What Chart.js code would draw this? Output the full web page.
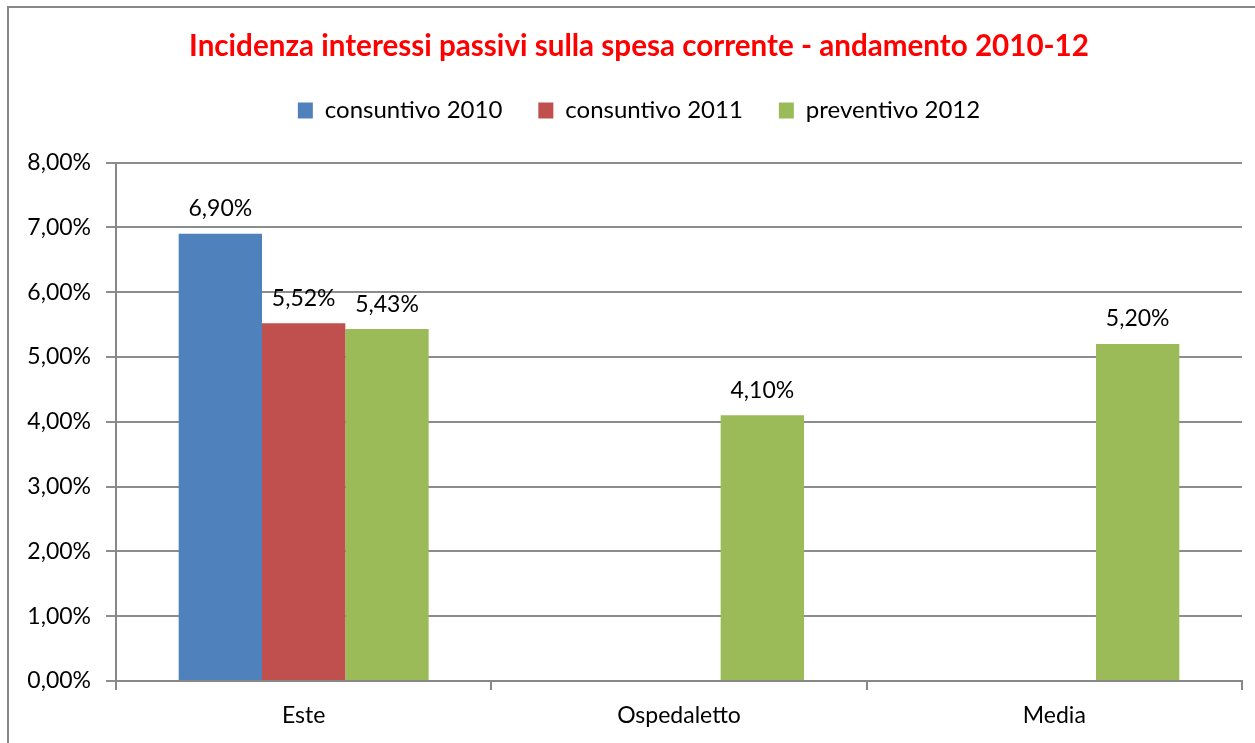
<!DOCTYPE html>
<html>
<head>
<meta charset="utf-8">
<script src="https://cdn.jsdelivr.net/npm/chart.js@4/dist/chart.umd.min.js"></script>
<style>
  html, body { margin: 0; padding: 0; background: #ffffff; overflow: hidden; }
  #wrap { position: relative; width: 1255px; height: 743px; }
</style>
</head>
<body>
<div id="wrap"><canvas id="c" width="1255" height="743"></canvas></div>
<script>
const categories = ['Este', 'Ospedaletto', 'Media'];
const consuntivo2010 = [6.90, null, null];
const consuntivo2011 = [5.52, null, null];
const preventivo2012 = [5.43, 4.10, 5.20];
const seriesNames = ['consuntivo 2010', 'consuntivo 2011', 'preventivo 2012'];
const yTicks = [0, 1, 2, 3, 4, 5, 6, 7, 8];
const titleText = 'Incidenza interessi passivi sulla spesa corrente - andamento 2010-12';

const FONT = 'Lato, "Open Sans", sans-serif';
const fmt = v => Number(v).toFixed(2).replace('.', ',') + '%';

const frame = {
  id: 'frame',
  beforeDraw(chart) {
    const ctx = chart.ctx;
    ctx.save();
    ctx.fillStyle = '#ffffff';
    ctx.fillRect(0, 0, chart.width, chart.height);
    ctx.strokeStyle = '#878787';
    ctx.lineWidth = 2;
    ctx.strokeRect(8, 7, chart.width + 20, chart.height + 20);
    ctx.restore();
  }
};

// empty layout box placed between the legend and the plot area
const legendSpacer = {
  id: 'legendSpacer',
  beforeInit(chart) {
    Chart.layouts.addBox(chart, {
      position: 'top',
      weight: 500,
      fullSize: true,
      options: {},
      update(maxWidth) { this.width = maxWidth; this.height = 30; },
      isHorizontal() { return true; },
      getPadding() { return { left: 0, right: 0, top: 0, bottom: 0 }; },
      draw() {}
    });
  }
};

const valueLabels = {
  id: 'valueLabels',
  afterDatasetsDraw(chart) {
    const ctx = chart.ctx;
    ctx.save();
    ctx.font = '23px ' + FONT;
    ctx.fillStyle = '#000000';
    ctx.textAlign = 'center';
    ctx.textBaseline = 'middle';
    chart.data.datasets.forEach((ds, i) => {
      const meta = chart.getDatasetMeta(i);
      meta.data.forEach((bar, j) => {
        const v = ds.data[j];
        if (v === null || v === undefined) return;
        ctx.fillText(fmt(v), bar.x, bar.y - 25);
      });
    });
    ctx.restore();
  }
};

new Chart(document.getElementById('c'), {
  type: 'bar',
  data: {
    labels: categories,
    datasets: [
      { label: seriesNames[0], data: consuntivo2010, backgroundColor: '#4F81BD' },
      { label: seriesNames[1], data: consuntivo2011, backgroundColor: '#C0504D' },
      { label: seriesNames[2], data: preventivo2012, backgroundColor: '#9BBB59' }
    ]
  },
  options: {
    responsive: false,
    animation: false,
    devicePixelRatio: 1,
    layout: { padding: { left: 36, right: 13, top: 0, bottom: 0 } },
    datasets: { bar: { categoryPercentage: 0.666, barPercentage: 1.0, skipNull: false } },
    plugins: {
      title: {
        display: true,
        text: titleText,
        color: '#FF0000',
        font: { family: FONT, size: 29.6, weight: 'bold', lineHeight: 1.1 },
        padding: { top: 30, bottom: 0 }
      },
      legend: {
        display: true,
        position: 'top',
        labels: {
          color: '#000000',
          font: { family: FONT, size: 24 },
          boxWidth: 15,
          boxHeight: 16,
          padding: 36
        }
      },
      tooltip: { enabled: false }
    },
    scales: {
      x: {
        grid: { display: true, drawOnChartArea: false, drawTicks: true, tickLength: 9, color: '#878787', lineWidth: 2, offset: true },
        border: { display: true, color: '#878787', width: 2 },
        ticks: { color: '#000000', font: { family: FONT, size: 23 }, padding: 12 },
        afterFit(scale) { scale.height = 62; }
      },
      y: {
        min: 0,
        max: 8,
        afterBuildTicks(scale) { scale.ticks = yTicks.map(v => ({ value: v })); },
        grid: { color: '#8c8c8c', lineWidth: 2, tickLength: 10, drawTicks: true },
        border: { display: true, color: '#878787', width: 2 },
        ticks: { color: '#000000', font: { family: FONT, size: 23 }, padding: 15, callback: v => fmt(v) },
        afterFit(scale) {
          scale.width = 80;
          // let the tick labels extend left of the narrow axis box without being clipped
          scale._computeLabelArea = function () { return undefined; };
        }
      }
    }
  },
  plugins: [frame, legendSpacer, valueLabels]
});
</script>
</body>
</html>
